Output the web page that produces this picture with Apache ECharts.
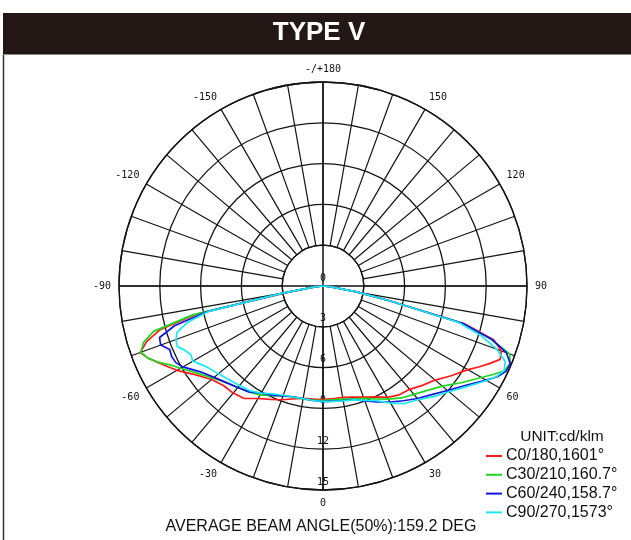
<!DOCTYPE html>
<html>
<head>
<meta charset="utf-8">
<script src="https://cdn.jsdelivr.net/npm/echarts/dist/echarts.min.js"></script>
<style>
html,body{margin:0;padding:0;background:#fff;}
#chart{width:631px;height:540px;}
</style>
</head>
<body>
<div id="chart"></div>
<script>
// Gamma angles (deg), 0 = straight down, positive = C0/C30/C60/C90 side
const gamma = [-90,-85,-80,-77.5,-75,-72.5,-70,-67.5,-65,-62.5,-60,-55,-50,-45,-40,-35,-30,-25,-20,-15,-10,-5,
  0,5,10,15,20,25,30,35,40,45,50,55,60,62.5,65,67.5,70,72.5,75,77.5,80,85,90];

// Intensities (radial scale units)
const c0_180 = [0,0.5,2.5,9.5,12.4,13.6,14.3,13.9,13.35,12.85,12.4,11.4,10.7,10.35,10.28,10.1,9.55,9.2,8.9,8.6,8.38,8.35,
  8.35,8.32,8.32,8.45,8.7,9.0,9.45,9.77,9.92,10.33,10.76,11.5,12.3,12.9,13.5,14.1,13.95,13.15,10.8,5.0,2.5,0.5,0];
const c30_210 = [0,0.5,3,9.8,12.9,13.85,14.25,13.9,13.3,12.6,12.1,11.2,10.55,10.05,9.75,9.5,9.25,8.9,8.6,8.45,8.45,8.42,
  8.42,8.4,8.45,8.6,8.8,9.15,9.6,10.05,10.4,10.85,11.45,12.4,13.45,14.1,14.75,14.9,14.6,12.9,10.6,5.0,2.5,0.5,0];
const c60_240 = [0,0.5,3,8.8,11.3,12.6,12.7,12.2,12.28,12.2,11.9,11.0,10.45,10.05,9.75,9.5,9.1,8.85,8.6,8.43,8.4,8.45,
  8.5,8.5,8.55,8.65,9.0,9.4,9.85,10.3,10.8,11.3,11.95,12.75,13.85,14.45,14.85,14.9,14.35,13.0,10.7,5.0,2.5,0.5,0];
const c90_270 = [0,0.5,3,8.6,10.3,11.25,11.5,11.6,11.2,10.95,11.05,10.4,10.05,9.75,9.55,9.4,9.1,8.75,8.55,8.45,8.4,8.45,
  8.5,8.52,8.58,8.67,8.95,9.3,9.95,10.55,10.9,11.5,12.1,12.9,13.9,14.4,14.7,14.5,13.6,12.2,10.3,5.0,2.5,0.5,0];

const seriesNames = ['C0/180,1601°','C30/210,160.7°','C60/240,158.7°','C90/270,1573°'];
const seriesColors = ['#ff1a1a','#1ed81e','#1414e0','#1ee6f5'];
const radialTicks = [0,3,6,9,12,15];
const titleText = 'TYPE V';
const unitText = 'UNIT:cd/klm';
const footText = 'AVERAGE BEAM ANGLE(50%):159.2 DEG';

const values = [c0_180, c30_210, c60_240, c90_270];
function toPolar(vals){ return gamma.map((g,i)=>[vals[i], (g+360)%360]); }

const CX = 323, CY = 286, R = 204, R0 = R*3/15;
const gridColor = '#141414';
const monoFont = 'DejaVu Sans Mono';

const chart = echarts.init(document.getElementById('chart'), null, {renderer:'canvas'});
chart.setOption({
  backgroundColor:'#fff',
  animation:false,
  title:[{
    text:titleText, left:319, top:20, textAlign:'center', padding:0,
    textStyle:{color:'#fff', fontSize:26, fontWeight:'bold', fontFamily:'Liberation Sans'}
  }],
  graphic:[
    {type:'rect', shape:{x:3, y:13, width:628, height:41}, style:{fill:'#231815'}, z:-1},
    {type:'line', shape:{x1:3.5, y1:54, x2:3.5, y2:540}, style:{stroke:'#333', lineWidth:1.5}},
    {type:'line', shape:{x1:3, y1:54.5, x2:631, y2:54.5}, style:{stroke:'#8a8a8a', lineWidth:1}},
    {type:'text', x:562, y:437, style:{text:unitText, font:'15.5px "Liberation Sans"', fill:'#111', align:'center', verticalAlign:'middle'}},
    {type:'text', x:321, y:527, style:{text:footText, font:'16px "Liberation Sans"', fill:'#111', align:'center', verticalAlign:'middle'}}
  ],
  polar:[
    {center:[CX,CY], radius:[R0,R]},
    {center:[CX,CY], radius:[0,R]}
  ],
  angleAxis:[
    {polarIndex:0, type:'value', min:0, max:360, interval:10, startAngle:270, clockwise:false,
      axisLine:{show:true, lineStyle:{color:gridColor, width:1.3}},
      axisTick:{show:false},
      splitLine:{show:true, lineStyle:{color:gridColor, width:1.2}},
      axisLabel:{show:true, margin:8, color:'#111', fontSize:10, fontFamily:monoFont,
        formatter:function(v){
          if (v % 30 !== 0 || v === 360) return '';
          if (v === 180) return '-/+180';
          return v < 180 ? String(v) : String(v-360);
        }}
    },
    {polarIndex:1, type:'value', min:0, max:360, interval:90, startAngle:270, clockwise:false,
      axisLine:{show:false}, axisTick:{show:false}, axisLabel:{show:false},
      splitLine:{show:true, lineStyle:{color:'#111', width:1.5}}
    }
  ],
  radiusAxis:[
    {polarIndex:0, type:'value', min:3, max:15, interval:3,
      axisLine:{show:false}, axisTick:{show:false}, axisLabel:{show:false},
      splitLine:{show:true, lineStyle:{color:gridColor, width:1.3}}
    },
    {polarIndex:1, type:'value', min:0, max:15, interval:3,
      axisLine:{show:false}, axisTick:{show:false}, splitLine:{show:false},
      axisLabel:{show:true, margin:0, align:'center', verticalAlign:'bottom', padding:[0,0,3,0],
        color:'#111', fontSize:10, fontFamily:monoFont,
        formatter:function(v){ return radialTicks.indexOf(v) >= 0 ? String(v) : ''; }}
    }
  ],
  legend:{
    orient:'vertical', left:486, top:448, padding:0, itemWidth:16, itemHeight:2, itemGap:2.8, itemSymbolGap:4, icon:'rect',
    textStyle:{fontSize:16, fontFamily:'Liberation Sans', color:'#111', padding:[0,0,0,-1]},
    data:seriesNames
  },
  series: values.map((vals,k)=>({
    name:seriesNames[k], type:'line', coordinateSystem:'polar', polarIndex:1,
    showSymbol:false, symbol:'none', smooth:false,
    lineStyle:{color:seriesColors[k], width:1.7},
    itemStyle:{color:seriesColors[k]},
    data:toPolar(vals)
  }))
});
</script>
</body>
</html>
